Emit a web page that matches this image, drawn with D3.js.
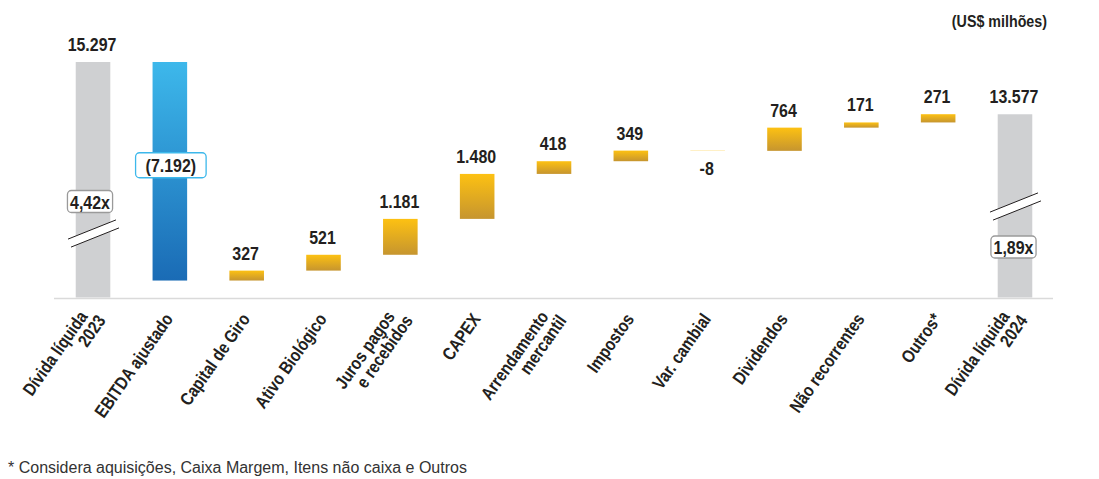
<!DOCTYPE html>
<html>
<head>
<meta charset="utf-8">
<script src="https://cdn.jsdelivr.net/npm/d3@7"></script>
<style>
  body { margin: 0; background: #fff; }
  svg text { font-family: "Liberation Sans", Arial, sans-serif; }
</style>
</head>
<body>
<div id="chart"></div>
<script>

// categories (multi-line x labels)
const categories = [
    ["Dívida líquida", "2023"],
    ["EBITDA ajustado"],
    ["Capital de Giro"],
    ["Ativo Biológico"],
    ["Juros pagos", "e recebidos"],
    ["CAPEX"],
    ["Arrendamento", "mercantil"],
    ["Impostos"],
    ["Var. cambial"],
    ["Dividendos"],
    ["Não recorrentes"],
    ["Outros*"],
    ["Dívida líquida", "2024"]
];

// first and last are totals, the rest are changes (US$ milhões)
const values = [15297, -7192, 327, 521, 1181, 1480, 418, 349, -8, 764, 171, 271, 13577];
const valueLabels = ["15.297", "(7.192)", "327", "521", "1.181", "1.480", "418", "349", "-8", "764", "171", "271", "13.577"];
const leverageLabels = ["4,42x", "1,89x"];

const unitLabel = "(US$ milhões)";
const footnote = "* Considera aquisições, Caixa Margem, Itens não caixa e Outros";

// no condensed bold face installed, so squeeze the regular bold
const SQUEEZE = 0.84;

class WaterfallChart {

    constructor(parentElement) {
        this.parentElement = parentElement;
        this.buildData();
    }

    buildData() {
        let vis = this;
        let running = 0;
        vis.displayData = values.map((v, i) => {
            let isTotal = (i == 0 || i == values.length - 1);
            let d = {name: categories[i], value: v, label: valueLabels[i], total: isTotal};
            if (isTotal) {
                d.start = null;
                d.end = v;
                running = v;
            } else {
                d.start = running;
                d.end = running + v;
                running = d.end;
            }
            return d;
        });
    }

    // bold condensed-looking text
    condText(parent, txt, x, y, size, anchor, rotate) {
        let g = parent.append("g")
            .attr("transform", "translate(" + x + "," + y + ")" + (rotate ? " rotate(" + rotate + ")" : "") + " scale(" + SQUEEZE + ",1)");
        return g.append("text")
            .attr("text-anchor", anchor || "middle")
            .text(txt)
            .style("font-size", size + "px")
            .style("font-weight", "bold")
            .style("fill", "#231f20");
    }

    initVis() {
        let vis = this;

        vis.width = 1099;
        vis.height = 479;

        vis.svg = d3.select("#" + vis.parentElement).append("svg")
            .attr("width", vis.width)
            .attr("height", vis.height);

        let defs = vis.svg.append("defs");
        let addGrad = function(id, top, bottom) {
            let g = defs.append("linearGradient").attr("id", id)
                .attr("x1", 0).attr("y1", 0).attr("x2", 0).attr("y2", 1);
            g.append("stop").attr("offset", "0%").attr("stop-color", top);
            g.append("stop").attr("offset", "100%").attr("stop-color", bottom);
        };
        addGrad("gradBlue", "#3db8eb", "#1a6bb5");
        addGrad("gradGold", "#fdc112", "#c6952f");

        // broken axis: the visible floor is not zero
        vis.baseline = 297.5;
        vis.axisFloor = 7547;

        vis.x = d3.scaleBand()
            .domain(d3.range(vis.displayData.length))
            .range([54.6, 1053.4])
            .paddingInner(0.55)
            .paddingOuter(0.275);

        vis.y = d3.scaleLinear()
            .domain([vis.axisFloor, values[0]])
            .range([vis.baseline, 62]);

        // baseline
        vis.svg.append("line")
            .attr("x1", 54).attr("x2", 1053)
            .attr("y1", vis.baseline + 1).attr("y2", vis.baseline + 1)
            .style("stroke", "#dadada")
            .style("stroke-width", 1.5);

        // bars
        vis.svg.selectAll(".bar")
            .data(vis.displayData)
            .enter()
            .append("rect")
            .attr("class", "bar")
            .attr("x", (d, i) => vis.x(i))
            .attr("width", vis.x.bandwidth())
            .attr("y", d => d.total ? vis.y(d.end) : vis.y(Math.max(d.start, d.end)))
            .attr("height", d => d.total
                ? vis.baseline - vis.y(d.end)
                : Math.abs(vis.y(d.start) - vis.y(d.end)))
            .style("fill", d => d.total ? "#cfd0d2" : (d.value < -1000 ? "url(#gradBlue)" : "url(#gradGold)"));

        // value labels
        vis.displayData.forEach(function(d, i) {
            if (d.value < -1000) return;
            let cx = vis.x(i) + vis.x.bandwidth() / 2 - 1;
            let ty;
            if (d.total) ty = vis.y(d.end) - 11;
            else if (d.value < 0) ty = vis.y(Math.min(d.start, d.end)) + 24;
            else ty = vis.y(Math.max(d.start, d.end)) - 11;
            vis.condText(vis.svg, d.label, cx, ty, 19, "middle");
        });

        // EBITDA boxed label
        vis.displayData.forEach(function(d, i) {
            if (d.total || d.value > -1000) return;
            let cx = vis.x(i) + vis.x.bandwidth() / 2 + 1;
            let cy = (vis.y(d.start) + vis.y(d.end)) / 2 - 6;
            vis.boxLabel(d.label, cx, cy, 10, 25, "#3db8eb");
        });

        // axis breaks + leverage boxes on total bars
        let totals = [0, vis.displayData.length - 1];
        let breakY = [vis.baseline - 64, vis.baseline - 91];
        let boxY = [breakY[0] - 32, breakY[1] + 40.5];
        totals.forEach(function(idx, k) {
            let cx = vis.x(idx) + vis.x.bandwidth() / 2;
            vis.axisBreak(cx, breakY[k]);
            vis.boxLabel(leverageLabels[k], cx - (k == 0 ? 3 : 1.5), boxY[k], 2.5, 22, "#9a9a9a");
        });

        // x labels
        let lineH = 17;
        vis.displayData.forEach(function(d, i) {
            let cx = vis.x(i) + vis.x.bandwidth() / 2;
            let n = d.name.length;
            d.name.forEach(function(line, j) {
                // shift each line perpendicular to the text direction
                let off = (j - (n - 1) / 2) * lineH;
                let along = n > 1 ? (j == 0 ? -3 : 4) : 0;
                let a = -55 * Math.PI / 180;
                let px = cx + 4 + off * -Math.sin(a) + along * Math.cos(a);
                let py = 319 + off * Math.cos(a) + along * Math.sin(a);
                vis.condText(vis.svg, line, px, py, 18, "end", -55);
            });
        });

        // unit label
        vis.condText(vis.svg, unitLabel, 1047, 27, 17, "end");

        // footnote
        vis.svg.append("text")
            .attr("x", 8)
            .attr("y", 473)
            .text(footnote)
            .style("font-size", "16px")
            .style("fill", "#333333");
    }

    boxLabel(txt, cx, cy, pad, h, stroke) {
        let vis = this;
        let g = vis.svg.append("g");
        let rect = g.append("rect");
        let t = vis.condText(g, txt, cx, cy + 7, 19, "middle");
        let w = t.node().getBBox().width * SQUEEZE + pad * 2;
        rect.attr("x", cx - w / 2)
            .attr("y", cy - h / 2)
            .attr("width", w)
            .attr("height", h)
            .attr("rx", 4)
            .style("fill", "white")
            .style("stroke", stroke)
            .style("stroke-width", 1.3);
    }

    axisBreak(cx, cy) {
        let vis = this;
        let dx = 24, dy = 9.6, gap = 8;
        let p1 = [cx - dx - 1, cy + dy - gap / 2], p2 = [cx + dx - 1, cy - dy - gap / 2];
        let q1 = [p1[0] + 3, p1[1] + gap], q2 = [p2[0] + 3, p2[1] + gap];
        vis.svg.append("polygon")
            .attr("points", [p1, p2, q2, q1].map(p => p.join(",")).join(" "))
            .style("fill", "white");
        [[p1, p2], [q1, q2]].forEach(function(l) {
            vis.svg.append("line")
                .attr("x1", l[0][0]).attr("y1", l[0][1])
                .attr("x2", l[1][0]).attr("y2", l[1][1])
                .style("stroke", "#231f20")
                .style("stroke-width", 1);
        });
    }
}

let chart = new WaterfallChart("chart");
chart.initVis();

</script>
</body>
</html>
